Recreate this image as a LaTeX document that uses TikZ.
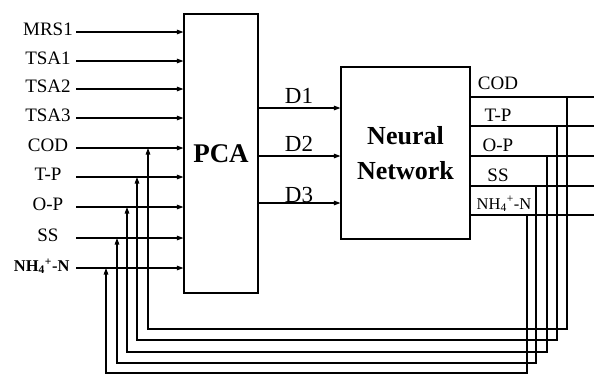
\documentclass[tikz,border=0pt]{standalone}
\usepackage{fontspec}
\setmainfont{Liberation Serif}
\usetikzlibrary{arrows.meta}
\begin{document}
\begin{tikzpicture}[x=1pt,y=-1pt,line width=1.1pt,
  arr/.style={-{Triangle[length=6.5pt,width=4.5pt]}},
  inlab/.style={inner sep=0pt,text height=0.68em,text depth=0pt,font=\fontsize{19}{22}\selectfont},
  outlab/.style={inner sep=0pt,anchor=base,font=\fontsize{19}{22}\selectfont},
  dlab/.style={inner sep=0pt,anchor=base,font=\fontsize{23}{26}\selectfont},
  blockbox/.style={draw,inner sep=0pt,align=center}]
\useasboundingbox (0,0) rectangle (594,375);
% blocks
\node[blockbox,minimum width=74pt,minimum height=279pt,font=\fontsize{27}{30}\selectfont\bfseries] (pca) at (221,153.5) {PCA};
\node[blockbox,minimum width=129pt,minimum height=172pt,font=\fontsize{26}{35}\selectfont\bfseries] (nn) at (405.5,153) {Neural\\Network};
% inputs
\foreach \i/\lab/\y in {1/MRS1/32,2/TSA1/61,3/TSA2/89,4/TSA3/118,5/COD/148,6/T-P/177,7/O-P/207,8/SS/238}{
  \node[inlab] (lab\i) at (48,\y) {\lab};
  \coordinate (s\i) at (76,\y);
  \draw[arr] (s\i) -- (s\i -| pca.west);
}
\node[inlab,anchor=east,font=\fontsize{16.5}{20}\selectfont\bfseries] (lab9) at (70,268) {NH\textsubscript{4}\textsuperscript{+}-N};
\coordinate (s9) at (76,268);
\draw[arr] (s9) -- (s9 -| pca.west);
% PCA -> NN
\foreach \i/\y/\yb in {1/108/103,2/156/151,3/203/202}{
  \coordinate (dd\i) at (258,\y);
  \draw[arr] (pca.east |- dd\i) -- (nn.west |- dd\i);
  \node[dlab] (dl\i) at (299,\yb) {D\i};
}
% outputs and feedback
\foreach \i/\lab/\y/\yb/\xd/\ybot/\xl/\k in {1/COD/97/89/567/329/148/5,2/T-P/126/121/557/340/137/6,3/O-P/156/151/547/352/127/7,4/SS/186/181/536/363/117/8}{
  \node[outlab] (ol\i) at (498,\yb) {\lab};
  \coordinate (o\i) at (594,\y);
  \coordinate (d\i) at (\xd,\y);
  \coordinate (b\i) at (\xl,\ybot);
  \draw (nn.east |- o\i) -- (o\i);
  \draw[arr] (d\i) -- (d\i |- b\i) -- (b\i) -- (b\i |- s\k);
}
\node[outlab,font=\fontsize{16.5}{20}\selectfont] (ol5) at (504,209) {NH\textsubscript{4}\textsuperscript{+}-N};
\coordinate (o5) at (594,215);
\coordinate (d5) at (527,215);
\coordinate (b5) at (106,373);
\draw (nn.east |- o5) -- (o5);
\draw[arr] (d5) -- (d5 |- b5) -- (b5) -- (b5 |- s9);
\end{tikzpicture}
\end{document}
